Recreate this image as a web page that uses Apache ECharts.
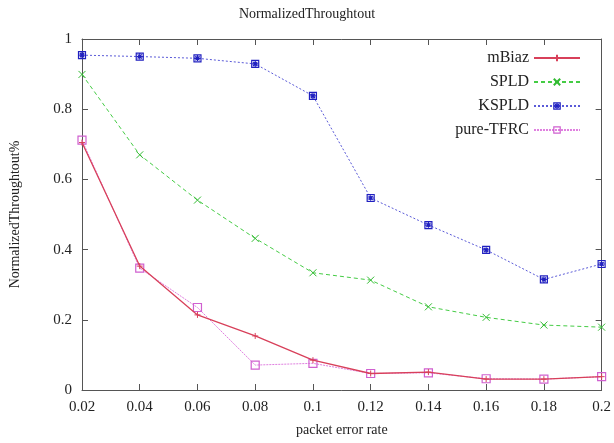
<!DOCTYPE html>
<html>
<head>
<meta charset="utf-8">
<script src="https://cdn.jsdelivr.net/npm/echarts@6/dist/echarts.min.js"></script>
<style>
  html, body { margin: 0; padding: 0; background: #fff; }
  #chart { width: 614px; height: 443px; }
</style>
</head>
<body>
<div id="chart"></div>
<script>
// 横轴：丢包率
var errorRate = [0.02, 0.04, 0.06, 0.08, 0.1, 0.12, 0.14, 0.16, 0.18, 0.2];
// 各算法归一化吞吐量
var mBiaz = [0.705, 0.353, 0.214, 0.154, 0.085, 0.047, 0.051, 0.031, 0.031, 0.038];
var spld = [0.899, 0.670, 0.541, 0.432, 0.334, 0.313, 0.237, 0.207, 0.185, 0.179];
var kspld = [0.954, 0.950, 0.945, 0.929, 0.838, 0.547, 0.470, 0.399, 0.315, 0.359];
var pureTfrc = [0.712, 0.347, 0.235, 0.071, 0.076, 0.047, 0.049, 0.032, 0.031, 0.038];

var font = "'Liberation Serif', 'DejaVu Serif', serif";

function pairs(ys) {
    return errorRate.map(function (x, i) {
        return [x, ys[i]];
    });
}

var plusPath = 'path://M0,5L10,5M5,0L5,10';
var crossPath = 'path://M0,0L10,10M10,0L0,10';
var starBox = 'path://M0,0L10,0L10,10L0,10Z M2,2L8,8M8,2L2,8M5,1L5,9M1,5L9,5';

var chart = echarts.init(document.getElementById('chart'));

function tickFmt(v) {
    return String(+v.toFixed(2));
}

var axisColor = '#555';
var clear = 'rgba(0,0,0,0)';

var option = {
    animation: false,
    backgroundColor: '#fff',
    title: {
        text: 'NormalizedThroughtout',
        left: 'center',
        top: 2,
        textStyle: {fontFamily: font, fontSize: 14, fontWeight: 'normal', color: '#222'}
    },
    legend: {
        orient: 'vertical',
        right: 28,
        top: 45,
        align: 'right',
        itemWidth: 46,
        itemHeight: 8,
        itemGap: 8,
        textStyle: {fontFamily: font, fontSize: 16, color: '#222'},
        data: [
            {name: 'mBiaz'},
            {name: 'SPLD'},
            {name: 'KSPLD', itemStyle: {color: clear, borderColor: '#2020c0', borderWidth: 1.2}},
            {name: 'pure-TFRC', itemStyle: {color: clear, borderColor: '#d060d0', borderWidth: 1.2}}
        ]
    },
    grid: {left: 81, right: 12, top: 39, bottom: 53},
    xAxis: [{
        type: 'value',
        min: 0.02,
        max: 0.2,
        interval: 0.02,
        name: 'packet error rate',
        nameLocation: 'middle',
        nameGap: 33,
        nameTextStyle: {fontFamily: font, fontSize: 14, color: '#222'},
        axisLine: {show: true, lineStyle: {color: axisColor, width: 1}},
        axisTick: {inside: true, length: 6, lineStyle: {color: axisColor}},
        axisLabel: {fontFamily: font, fontSize: 15, color: '#222', margin: 10, formatter: tickFmt},
        splitLine: {show: false}
    }, {
        type: 'value',
        position: 'top',
        min: 0.02,
        max: 0.2,
        interval: 0.02,
        axisLine: {show: true, onZero: false, lineStyle: {color: axisColor, width: 1}},
        axisTick: {show: true, inside: true, length: 6, lineStyle: {color: axisColor}},
        axisLabel: {show: false},
        splitLine: {show: false}
    }],
    yAxis: [{
        type: 'value',
        min: 0,
        max: 1,
        interval: 0.2,
        name: 'NormalizedThroughtout%',
        nameLocation: 'middle',
        nameGap: 60,
        nameTextStyle: {fontFamily: font, fontSize: 14, color: '#222'},
        axisLine: {show: true, lineStyle: {color: axisColor, width: 1}},
        axisTick: {show: true, inside: true, length: 6, lineStyle: {color: axisColor}},
        axisLabel: {fontFamily: font, fontSize: 15, color: '#222', margin: 10, formatter: tickFmt},
        splitLine: {show: false}
    }, {
        type: 'value',
        position: 'right',
        min: 0,
        max: 1,
        interval: 0.2,
        axisLine: {show: true, onZero: false, lineStyle: {color: axisColor, width: 1}},
        axisTick: {show: true, inside: true, length: 6, lineStyle: {color: axisColor}},
        axisLabel: {show: false},
        splitLine: {show: false}
    }],
    series: [{
        name: 'mBiaz',
        type: 'line',
        data: pairs(mBiaz),
        symbol: plusPath,
        symbolSize: 6,
        lineStyle: {color: '#d8405a', width: 1.3},
        itemStyle: {color: '#d8405a', borderColor: '#d8405a', borderWidth: 1},
        z: 4
    }, {
        name: 'SPLD',
        type: 'line',
        data: pairs(spld),
        symbol: crossPath,
        symbolSize: 7,
        lineStyle: {color: '#44cc44', width: 1, type: [4, 3]},
        itemStyle: {color: '#44cc44', borderColor: '#33bb33', borderWidth: 1}
    }, {
        name: 'KSPLD',
        type: 'line',
        data: pairs(kspld),
        symbol: starBox,
        symbolSize: 7,
        lineStyle: {color: '#5a5ad8', width: 1, type: [2, 2]},
        itemStyle: {color: clear, borderColor: '#2020c0', borderWidth: 1.2}
    }, {
        name: 'pure-TFRC',
        type: 'line',
        data: pairs(pureTfrc),
        symbol: 'rect',
        symbolSize: 8,
        lineStyle: {color: '#e080e0', width: 1, type: [2, 1]},
        itemStyle: {color: clear, borderColor: '#d060d0', borderWidth: 1.2},
        z: 3
    }]
};

chart.setOption(option);
</script>
</body>
</html>
